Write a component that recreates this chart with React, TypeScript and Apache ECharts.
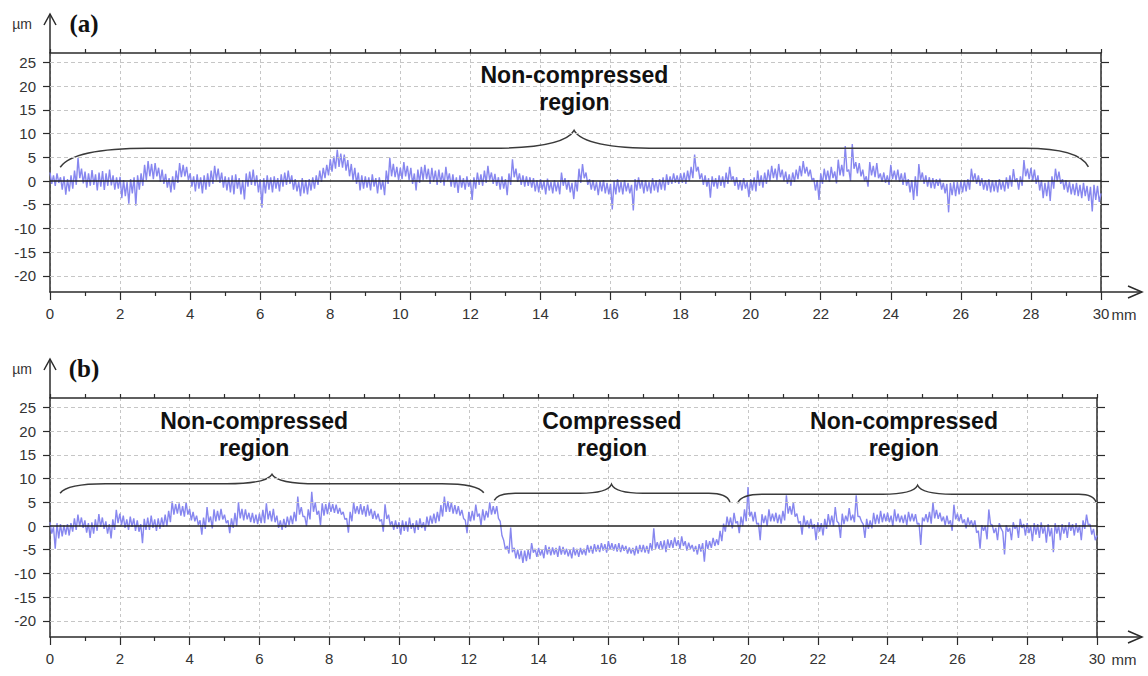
import React, { useEffect, useRef } from "react";
import * as echarts from "echarts";

// ---- data ----
const STEP_MM = 0.05; // sampling step of the profiles, mm (upper / lower edge of the noisy trace alternately)

// Panel (a): profile height in µm, 0 → 30 mm
const profileA = [
  1.8, -0.6, 1.2, -1.0, 1.6, -0.4, 0.8, -1.8, 1.0, -2.9, 0.4, -2.2, 1.2, -1.6, 2.2, -0.8, 4.9, 0.6, 2.6, -0.5,
  2.0, -1.4, 1.6, -1.0, 2.3, -0.8, 1.4, -2.0, 1.8, -1.2, 2.1, -1.9, 1.6, -1.0, 2.4, -0.9, 1.2, -1.8, 0.8, -1.6,
  0.9, -3.6, 0.2, -3.2, -0.2, -4.8, 0.4, -2.6, 0.8, -5.2, 1.2, -1.8, 1.6, -1.0, 3.4, 0.2, 4.2, 1.0, 3.6, 0.4,
  3.8, 1.0, 2.8, -0.2, 2.4, -0.6, 1.5, -1.4, 0.6, -2.4, 1.0, -1.8, 2.2, -0.4, 3.8, 0.8, 3.4, 1.0, 3.0, 0.2,
  1.6, -1.2, 1.0, -2.2, 1.4, -1.6, 0.8, -2.6, 1.2, -1.8, 1.6, -1.2, 2.2, -0.6, 3.2, 0.2, 2.6, -0.4, 1.8, -1.4,
  1.0, -2.0, 0.8, -2.4, 1.2, -2.8, 1.4, -1.6, 0.6, -2.8, 0.2, -3.9, 1.6, -1.2, 2.0, -0.8, 2.4, -1.0, 1.2, -2.4,
  0.4, -5.6, 0.6, -2.6, 1.2, -1.8, 0.8, -2.4, 1.0, -1.6, 0.6, -2.2, 1.4, -1.2, 1.8, -0.8, 2.2, -0.6, 1.2, -1.8,
  0.4, -2.2, -0.2, -3.2, 0.6, -2.6, 0.2, -2.8, 0.4, -2.0, 0.8, -1.6, 1.2, -0.8, 2.2, -0.2, 2.8, 0.6, 3.4, 1.2,
  4.6, 2.0, 5.2, 2.6, 6.6, 3.0, 5.8, 2.8, 5.6, 2.2, 4.4, 1.0, 3.6, 0.2, 2.8, -0.6, 1.8, -2.0, 1.2, -1.6,
  1.0, -1.4, 0.8, -2.0, 1.4, -1.2, 0.6, -2.6, 0.8, -1.8, 0.2, -3.0, 2.2, -0.6, 4.9, 1.0, 3.6, 0.8, 3.0, 0.2,
  2.8, 0.4, 4.0, 1.0, 3.2, 0.2, 2.8, -0.6, 1.6, -2.0, 2.4, -0.4, 3.0, 0.2, 3.4, 0.4, 2.6, -0.6, 2.8, -0.2,
  2.2, -0.8, 2.4, -0.4, 1.8, -1.0, 3.0, 0.0, 1.6, -1.2, 1.4, -1.4, 0.8, -2.5, 1.2, -1.4, 0.6, -1.8, 1.0, -1.2,
  0.2, -4.0, 0.8, -1.6, 1.8, -0.8, 1.4, -1.0, 2.2, -0.4, 3.2, 0.2, 1.8, -0.6, 1.5, -1.0, 0.8, -1.8, 1.0, -1.6,
  0.4, -3.0, 1.6, -0.8, 4.6, 0.8, 2.6, -0.2, 1.6, -0.8, 1.2, -1.2, 1.0, -1.0, 0.8, -1.4, 0.6, -2.2, 0.2, -2.4,
  0.4, -1.8, 0.0, -2.8, 0.5, -2.0, -0.2, -2.6, 0.2, -2.2, -0.2, -2.8, 1.8, -1.0, 0.6, -1.8, 0.2, -2.4, -0.4, -3.8,
  0.2, -2.2, 2.6, -0.4, 3.6, 0.6, 1.8, -0.8, 0.4, -1.8, 0.2, -2.0, -0.2, -3.0, 0.0, -2.2, 0.2, -2.6, -0.4, -2.8,
  -0.6, -6.0, 0.0, -2.8, 0.4, -2.4, -0.2, -2.8, 0.2, -2.2, -0.4, -2.6, -0.8, -6.2, 0.4, -2.0, 0.8, -1.6, 0.2, -2.6,
  0.2, -2.2, -0.2, -2.6, 0.6, -2.0, 0.2, -2.4, 0.4, -1.8, 0.8, -2.0, 1.4, -0.8, 1.0, -0.6, 1.6, -0.4, 1.2, -0.6,
  1.6, -0.4, 1.8, -0.6, 2.2, 0.0, 3.0, 0.6, 5.6, 2.0, 3.0, 0.4, 1.6, -0.8, 1.2, -1.2, 0.6, -3.5, 1.0, -1.2,
  0.6, -1.6, 1.2, -1.0, 1.0, -1.4, 1.8, -0.6, 3.0, 0.2, 1.0, -1.0, 0.8, -1.8, 0.2, -2.0, 0.6, -1.6, -0.2, -3.4,
  0.4, -2.0, 0.8, -2.2, 2.2, -1.0, 1.2, -1.4, 1.8, -0.6, 2.4, 0.0, 3.2, 0.6, 2.6, 0.2, 3.6, 0.8, 2.4, 0.0,
  2.0, -0.6, 1.4, -1.0, 1.8, -0.2, 2.4, 0.4, 3.2, 1.0, 4.2, 1.6, 3.0, 1.0, 2.4, 0.2, 0.6, -2.0, 0.2, -4.0,
  1.6, -0.6, 2.6, 0.2, 2.2, -0.2, 3.0, 0.6, 2.0, -0.5, 4.5, 1.2, 3.4, 1.0, 7.4, 2.0, 2.4, 0.0, 7.8, 2.6,
  4.0, 1.6, 3.8, 1.0, 2.4, 0.0, 1.0, -1.2, 4.0, 1.2, 3.2, 0.8, 3.8, 0.6, 1.6, -0.2, 1.8, -0.4, 1.2, -0.8,
  3.4, 0.4, 2.2, 0.2, 2.4, -0.2, 1.6, -0.8, 1.8, -1.0, 0.4, -2.4, 0.2, -4.0, 1.0, -3.2, 3.6, 0.2, 1.8, -0.6,
  1.2, -1.2, 0.8, -1.5, 0.6, -1.6, 0.4, -1.0, 0.5, -1.8, -0.4, -2.6, -0.6, -6.6, -0.4, -3.0, -0.2, -3.2, -0.2, -2.8,
  0.0, -2.4, 0.2, -2.2, 0.4, -1.8, 2.6, 0.0, 1.6, -0.6, 1.2, -1.0, 0.6, -1.8, 0.2, -2.0, 0.4, -2.4, 0.2, -2.2,
  0.2, -2.4, 0.4, -1.8, 0.0, -2.2, 0.8, -1.6, 1.2, -1.2, 2.5, -0.2, 0.6, -1.8, 1.0, -1.0, 4.4, 1.0, 2.6, 0.4,
  2.8, 0.0, 2.4, -0.6, 1.2, -2.0, 0.2, -3.6, -0.4, -3.2, 0.0, -4.2, 1.0, -1.6, 2.6, 0.0, 2.0, -0.6, 0.4, -1.8,
  0.2, -2.4, -0.2, -2.8, -0.6, -3.0, -0.4, -3.2, -0.8, -3.6, -0.4, -3.2, -1.0, -4.2, -1.2, -6.4, -0.8, -4.0, -1.0, -4.4,
  -2.6,
];

// Panel (b): profile height in µm, 0 → 30 mm
const profileB = [
  0.8, -1.6, -0.2, -4.8, 0.6, -2.6, 0.4, -2.2, 0.2, -1.8, 0.4, -2.0, 0.6, -1.2, 1.6, -0.8, 2.4, 0.0, 1.8, -0.4,
  1.2, -1.4, 0.6, -2.5, 0.8, -1.6, 1.4, -1.0, 2.5, -0.2, 1.8, -0.6, 1.0, -1.6, 0.4, -2.6, 1.4, -0.8, 3.4, 0.6,
  2.6, 0.2, 2.2, -0.4, 1.4, -0.8, 2.0, -0.2, 1.6, -1.0, 1.2, -1.2, 0.4, -3.6, 1.5, -0.8, 1.8, -0.8, 2.2, -0.4,
  1.4, -1.0, 1.6, -0.6, 1.8, -0.2, 2.4, 0.0, 3.2, 0.8, 5.2, 2.4, 4.6, 2.6, 4.8, 2.2, 4.2, 2.0, 5.0, 2.4,
  3.6, 1.2, 3.0, 1.0, 2.2, 0.2, 1.2, -1.8, 1.8, -0.6, 4.0, 0.8, 2.0, -0.5, 3.5, 1.0, 3.2, 1.2, 3.6, 1.4,
  2.4, 0.6, 1.2, -1.5, 1.6, -0.4, 2.8, 0.0, 5.0, 1.6, 3.6, 1.2, 3.5, 1.4, 2.8, 0.8, 2.8, 0.6, 2.4, 0.4,
  2.6, 0.6, 3.4, 0.6, 4.8, 1.4, 3.2, 1.0, 3.6, 0.8, 2.2, -0.4, 1.2, -0.8, 1.5, -0.4, 2.0, 0.2, 2.2, 0.4,
  3.0, 1.0, 6.2, 2.4, 4.0, 2.0, 2.0, 0.0, 3.5, 1.4, 7.2, 3.0, 5.0, 2.4, 3.2, 0.2, 4.8, 2.2, 4.6, 2.5,
  5.0, 3.0, 4.6, 2.8, 4.5, 2.6, 3.8, 2.4, 3.0, 1.4, 1.6, -1.4, 3.0, 1.0, 5.0, 2.6, 4.2, 2.5, 4.6, 2.4,
  4.2, 2.0, 4.5, 2.2, 3.6, 1.5, 3.2, 1.4, 2.6, 1.0, 1.4, -1.2, 4.6, 1.5, 2.4, 0.2, 1.0, -0.8, 1.2, -0.6,
  0.8, -1.8, 1.2, -1.0, 1.0, -1.2, 1.8, -0.6, 0.6, -1.5, 1.2, -0.8, 1.6, -0.4, 0.8, -1.0, 2.0, 0.0, 2.2, 0.5,
  2.6, 0.6, 3.0, 1.0, 4.4, 2.0, 6.2, 3.0, 5.2, 3.0, 5.0, 2.6, 4.4, 2.5, 4.2, 2.2, 3.4, 1.6, 1.2, -1.5,
  3.0, 1.0, 3.2, 1.2, 4.5, 2.0, 2.6, 0.2, 3.5, 1.2, 3.2, 1.8, 5.0, 2.4, 4.2, 2.5, 4.2, 1.6, 1.0, -2.0,
  -3.0, -5.0, -4.2, -5.8, -0.3, -5.5, -4.6, -6.8, -5.0, -7.0, -5.2, -7.8, -5.2, -7.4, -5.0, -7.0, -3.6, -5.6, -4.8, -6.5,
  -4.6, -6.2, -5.0, -6.8, -4.0, -6.0, -4.4, -6.2, -4.5, -6.0, -4.6, -6.5, -4.2, -6.0, -4.4, -6.0, -4.8, -6.4, -5.0, -6.8,
  -4.5, -6.2, -4.8, -6.5, -4.6, -6.0, -4.8, -6.2, -4.0, -5.6, -4.2, -5.8, -3.8, -5.4, -4.0, -5.5, -3.6, -5.2, -3.8, -5.6,
  -3.2, -5.0, -3.6, -5.2, -3.8, -5.4, -3.6, -5.5, -4.0, -5.2, -4.2, -5.8, -4.5, -5.8, -4.6, -6.2, -4.2, -5.8, -4.0, -5.5,
  -4.0, -5.6, -4.2, -5.8, -3.6, -5.2, -0.5, -4.8, -3.4, -4.8, -3.2, -5.0, -3.0, -5.5, -2.8, -4.6, -3.0, -4.6, -2.4, -4.2,
  -3.0, -4.8, -2.2, -4.2, -3.2, -5.2, -3.5, -4.8, -4.0, -5.4, -4.2, -6.0, -3.8, -5.4, -3.6, -7.5, -3.0, -4.8, -3.2, -4.6,
  -2.5, -4.2, -2.8, -4.0, -1.0, -3.2, 0.5, -1.2, 2.0, 0.0, 1.8, -0.5, 2.8, 0.6, 1.0, -1.5, 2.0, 0.0, 3.5, 1.0,
  8.2, 2.0, 3.0, 1.0, 3.0, 0.4, 0.6, -3.0, 2.5, 0.6, 2.2, 0.0, 3.5, 1.0, 2.6, 1.0, 2.8, 0.6, 2.4, 0.5,
  3.2, 1.2, 6.5, 2.6, 4.2, 2.4, 5.0, 2.0, 2.6, 0.6, 1.0, -1.8, 2.2, 0.0, 1.2, -0.5, 1.5, -0.6, 0.4, -3.0,
  0.8, -1.2, 0.6, -2.0, 1.5, -0.6, 2.5, 0.2, 2.2, 0.0, 4.0, 1.0, 0.6, -2.5, 2.6, 0.4, 2.2, 1.0, 3.8, 1.2,
  2.4, 0.8, 6.5, 2.0, 2.0, 1.0, 0.4, -2.5, 1.5, -0.6, 1.2, -0.5, 2.8, 0.4, 2.4, 0.5, 3.2, 0.8, 2.6, 1.0,
  2.8, 0.8, 2.2, 0.0, 3.5, 1.0, 2.6, 0.8, 2.2, 0.6, 2.4, 0.2, 3.0, 1.0, 2.6, 1.0, 2.5, 0.4, 0.6, -4.0,
  1.8, 1.0, 2.5, 0.8, 3.0, 0.5, 5.0, 1.6, 3.4, 1.5, 2.8, 1.0, 2.0, 0.2, 2.2, 0.4, 1.2, -1.0, 4.5, 1.4,
  2.6, 1.0, 2.5, 0.6, 1.4, -0.5, 1.8, 0.2, 1.2, -0.2, 1.2, -1.4, -1.0, -4.8, 0.2, -1.0, 0.0, -2.8, 3.5, 0.4,
  0.2, -1.5, -0.4, -3.0, 0.6, -0.5, -1.2, -6.0, 0.2, -1.2, -0.4, -3.0, 0.8, -0.6, 0.2, -2.5, 1.5, -0.4, 0.4, -2.0,
  0.6, -1.5, 0.0, -3.2, 0.6, -1.8, 0.4, -2.5, 0.8, -1.6, 0.0, -3.5, 0.4, -2.2, -0.4, -5.5, 0.6, -1.6, 0.2, -3.0,
  0.4, -1.6, 0.2, -2.5, 0.8, -1.0, 0.4, -2.0, 0.6, -1.4, 0.2, -3.0, 1.2, -0.6, 2.4, 0.2, 0.4, -1.8, -0.6, -3.0,
  -2.0,
];

const xTickValues = [0, 2, 4, 6, 8, 10, 12, 14, 16, 18, 20, 22, 24, 26, 28, 30];
const yTickValues = [-20, -15, -10, -5, 0, 5, 10, 15, 20, 25];

// region annotations (mm / µm)
const regionLabelsA = [{ text: "Non-compressed\nregion", x: 14.97, y: 19.6 }];
const regionLabelsB = [
  { text: "Non-compressed\nregion", x: 5.85, y: 19.4 },
  { text: "Compressed\nregion", x: 16.1, y: 19.4 },
  { text: "Non-compressed\nregion", x: 24.47, y: 19.4 },
];
// braces: ends x1/x2 (mm), tip xm; heights in µm
const bracesA = [
  { x1: 0.29, x2: 29.64, xm: 14.96, yEnd1: 2.9, yEnd2: 3.0, yLevel: 6.9, yTip: 10.7, dEnd1: 2.5, dEnd2: 1.8, dMid: 2.4 },
];
const bracesB = [
  { x1: 0.29, x2: 12.43, xm: 6.36, yEnd1: 6.9, yEnd2: 7.0, yLevel: 8.9, yTip: 10.9, dEnd1: 1.3, dEnd2: 1.2, dMid: 1.3 },
  { x1: 12.73, x2: 19.48, xm: 16.09, yEnd1: 5.4, yEnd2: 5.1, yLevel: 6.9, yTip: 8.8, dEnd1: 0.6, dEnd2: 0.6, dMid: 0.9 },
  { x1: 19.7, x2: 29.98, xm: 24.86, yEnd1: 4.8, yEnd2: 4.9, yLevel: 6.7, yTip: 8.6, dEnd1: 0.7, dEnd2: 0.5, dMid: 1.0 },
];

// ---- layout ----
const Y_MIN = -23.4;
const Y_MAX = 27;
const GA = { left: 50, top: 53, width: 1051, height: 239 };
const GB = { left: 50, top: 398, width: 1047, height: 239 };
const AXIS_COLOR = "#2b2b2b";
const TEXT_COLOR = "#333";
const LINE_COLOR = "#8787ef";
const LABEL_FONT = "Liberation Sans, Arial, sans-serif";

function bracePath(api: any, b: any) {
  const p = (x: number, y: number) => api.coord([x, y]);
  const pts = [
    p(b.x1, b.yEnd1),
    p(b.x1 + 0.15 * b.dEnd1, b.yLevel),
    p(b.x1 + b.dEnd1, b.yLevel),
    p(b.xm - b.dMid, b.yLevel),
    p(b.xm - 0.12 * b.dMid, b.yLevel),
    p(b.xm, b.yTip),
    p(b.xm + 0.12 * b.dMid, b.yLevel),
    p(b.xm + b.dMid, b.yLevel),
    p(b.x2 - b.dEnd2, b.yLevel),
    p(b.x2 - 0.15 * b.dEnd2, b.yLevel),
    p(b.x2, b.yEnd2),
  ];
  const f = (q: number[]) => q[0].toFixed(1) + " " + q[1].toFixed(1);
  return (
    "M" + f(pts[0]) +
    " Q" + f(pts[1]) + " " + f(pts[2]) +
    " L" + f(pts[3]) +
    " Q" + f(pts[4]) + " " + f(pts[5]) +
    " Q" + f(pts[6]) + " " + f(pts[7]) +
    " L" + f(pts[8]) +
    " Q" + f(pts[9]) + " " + f(pts[10])
  );
}

function panelAxes(gridIndex: number) {
  const xBottom = {
    type: "value",
    gridIndex,
    position: "bottom",
    min: 0,
    max: 30,
    interval: 2,
    axisLine: { show: true, onZero: false, lineStyle: { color: AXIS_COLOR, width: 1.5 } },
    axisTick: { show: true, inside: false, length: 8, lineStyle: { color: AXIS_COLOR, width: 1.2 } },
    minorTick: { show: true, splitNumber: 2, length: 4, lineStyle: { color: AXIS_COLOR, width: 1.2 } },
    axisLabel: {
      show: true,
      margin: 14,
      color: TEXT_COLOR,
      fontSize: 15,
      fontFamily: LABEL_FONT,
      customValues: xTickValues,
    },
    splitLine: { show: true, lineStyle: { color: "#c6c6c6", type: [3, 3], width: 1 } },
  };
  const xTop = {
    type: "value",
    gridIndex,
    position: "top",
    min: 0,
    max: 30,
    interval: 1,
    axisLine: { show: true, onZero: false, lineStyle: { color: AXIS_COLOR, width: 1.5 } },
    axisTick: { show: true, inside: false, length: 4, lineStyle: { color: AXIS_COLOR, width: 1.2 } },
    axisLabel: { show: false },
    splitLine: { show: false },
  };
  const yLeft = {
    type: "value",
    gridIndex,
    position: "left",
    min: Y_MIN,
    max: Y_MAX,
    axisLine: { show: true, onZero: false, lineStyle: { color: AXIS_COLOR, width: 1.5 } },
    axisTick: { show: true, inside: false, length: 7, customValues: yTickValues, lineStyle: { color: AXIS_COLOR, width: 1.2 } },
    axisLabel: {
      show: true,
      margin: 14,
      color: TEXT_COLOR,
      fontSize: 15,
      fontFamily: LABEL_FONT,
      customValues: yTickValues,
    },
    splitLine: { show: false },
  };
  const yRight = {
    type: "value",
    gridIndex,
    position: "right",
    min: Y_MIN,
    max: Y_MAX,
    axisLine: { show: true, onZero: false, lineStyle: { color: AXIS_COLOR, width: 1.5 } },
    axisTick: { show: true, inside: false, length: 8, customValues: yTickValues, lineStyle: { color: AXIS_COLOR, width: 1.2 } },
    axisLabel: { show: false },
    splitLine: { show: false },
  };
  return { xs: [xBottom, xTop], ys: [yLeft, yRight] };
}

function panelSeries(
  xAxisIndex: number,
  yAxisIndex: number,
  profile: number[],
  braces: any[],
  labels: any[]
) {
  const lines = {
    type: "line",
    xAxisIndex,
    yAxisIndex,
    data: [],
    silent: true,
    z: 1,
    markLine: {
      silent: true,
      symbol: ["none", "none"],
      label: { show: false },
      lineStyle: { color: "#c6c6c6", type: [4, 3], width: 1 },
      data: yTickValues.map((v) =>
        v === 0
          ? { yAxis: v, lineStyle: { color: "#222", type: "solid", width: 1.6 } }
          : { yAxis: v }
      ),
    },
  };
  const prof = {
    type: "line",
    xAxisIndex,
    yAxisIndex,
    data: profile.map((v, i) => [Number((i * STEP_MM).toFixed(3)), v]),
    showSymbol: false,
    symbol: "none",
    silent: true,
    z: 3,
    lineStyle: { color: LINE_COLOR, width: 1.4 },
  };
  const brace = {
    type: "custom",
    xAxisIndex,
    yAxisIndex,
    silent: true,
    clip: false,
    z: 4,
    data: braces.map((b) => [b.xm, b.yTip]),
    renderItem: (params: any, api: any) => {
      const b = braces[params.dataIndex];
      return {
        type: "path",
        shape: { pathData: bracePath(api, b) },
        style: { fill: "none", stroke: "#3a3a3a", lineWidth: 1.5 },
      };
    },
  };
  const text = {
    type: "custom",
    xAxisIndex,
    yAxisIndex,
    silent: true,
    clip: false,
    z: 5,
    data: labels.map((l) => [l.x, l.y]),
    renderItem: (params: any, api: any) => {
      const l = labels[params.dataIndex];
      const c = api.coord([l.x, l.y]);
      return {
        type: "text",
        x: c[0],
        y: c[1],
        style: {
          text: l.text,
          fill: "#111",
          fontSize: 23,
          fontWeight: "bold",
          fontFamily: LABEL_FONT,
          align: "center",
          verticalAlign: "middle",
          lineHeight: 27,
        },
      };
    },
  };
  return [lines, prof, brace, text];
}

function axisDecor(g: any, label: string) {
  const x0 = g.left;
  const yTop = g.top;
  const yBot = g.top + g.height;
  const xEnd = g.left + g.width;
  const arrowTop = yTop - 39;
  const stroke = { stroke: AXIS_COLOR, lineWidth: 1.5, fill: "none" };
  return [
    { type: "line", shape: { x1: x0, y1: arrowTop, x2: x0, y2: yTop }, style: stroke, silent: true },
    { type: "polyline", shape: { points: [[x0 - 6, arrowTop + 11], [x0, arrowTop], [x0 + 6, arrowTop + 11]] }, style: stroke, silent: true },
    { type: "line", shape: { x1: xEnd, y1: yBot, x2: 1142, y2: yBot }, style: stroke, silent: true },
    { type: "polyline", shape: { points: [[1128, yBot - 6], [1142, yBot], [1128, yBot + 6]] }, style: stroke, silent: true },
    {
      type: "text",
      x: 22,
      y: arrowTop + 10,
      silent: true,
      style: { text: "µm", fill: TEXT_COLOR, fontSize: 14, fontFamily: LABEL_FONT, align: "center", verticalAlign: "middle" },
    },
    {
      type: "text",
      x: 84,
      y: arrowTop + 9,
      silent: true,
      style: { text: label, fill: "#111", fontSize: 25, fontWeight: "bold", fontFamily: "Liberation Serif, Times New Roman, serif", align: "center", verticalAlign: "middle" },
    },
    {
      type: "text",
      x: 1124,
      y: yBot + 22,
      silent: true,
      style: { text: "mm", fill: TEXT_COLOR, fontSize: 15, fontFamily: LABEL_FONT, align: "center", verticalAlign: "middle" },
    },
  ];
}

export default function App() {
  const ref = useRef<HTMLDivElement>(null);
  useEffect(() => {
    if (!ref.current) return;
    const chart = echarts.init(ref.current, undefined, { renderer: "svg" });
    const a = panelAxes(0);
    const b = panelAxes(1);
    chart.setOption({
      animation: false,
      backgroundColor: "#fff",
      grid: [
        { ...GA, containLabel: false },
        { ...GB, containLabel: false },
      ],
      xAxis: [...a.xs, ...b.xs],
      yAxis: [...a.ys, ...b.ys],
      series: [
        ...panelSeries(0, 0, profileA, bracesA, regionLabelsA),
        ...panelSeries(2, 2, profileB, bracesB, regionLabelsB),
      ],
      graphic: [...axisDecor(GA, "(a)"), ...axisDecor(GB, "(b)")],
    });
    return () => chart.dispose();
  }, []);
  return (
    <div
      ref={ref}
      style={{ position: "fixed", left: 0, top: 0, width: 1148, height: 676, background: "#fff" }}
    />
  );
}
